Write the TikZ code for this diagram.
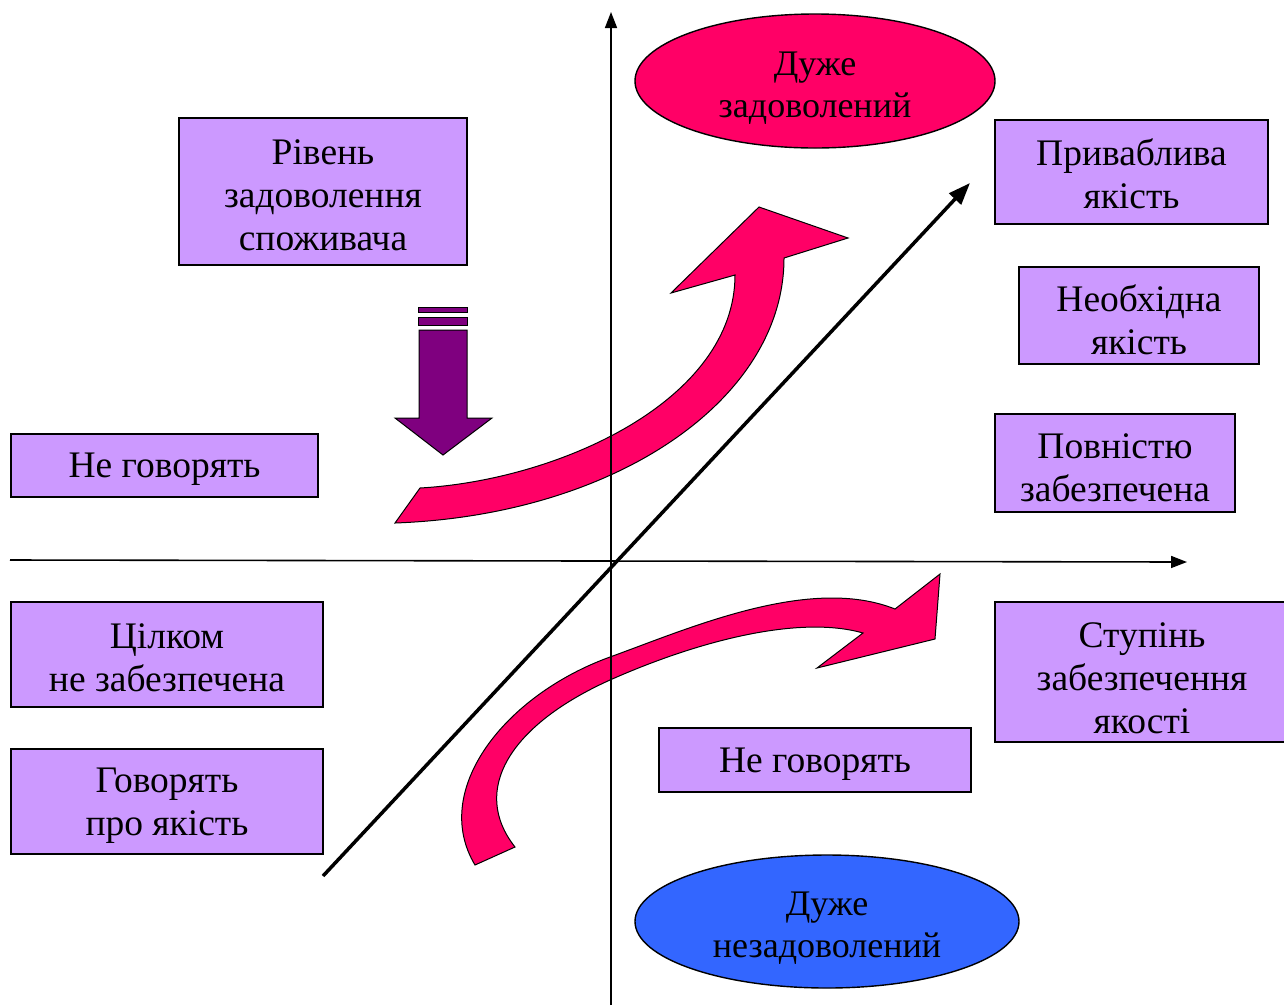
\documentclass[tikz,border=0pt]{standalone}
\usepackage{fontspec}
\setmainfont{Liberation Serif}
\usetikzlibrary{arrows.meta,shapes.geometric}
\definecolor{boxc}{HTML}{CC99FF}
\definecolor{pinkc}{HTML}{FF0066}
\definecolor{bluec}{HTML}{3366FF}
\definecolor{purpc}{HTML}{7F007F}
\begin{document}
\begin{tikzpicture}[x=1pt,y=-1pt,
  lbl/.style={draw=black,line width=1.4pt,fill=boxc,inner sep=0pt},
  txt/.style={inner sep=0pt,align=center,font=\fontsize{37.5}{43}\selectfont},
  ell/.style={ellipse,draw=black,line width=1.4pt,inner sep=0pt},
  etxt/.style={inner sep=0pt,align=center,font=\fontsize{36}{42}\selectfont},
  pinkarrow/.style={fill=pinkc,draw=black,line width=1pt,line join=miter},
  axis/.style={line width=1.6pt,-{Triangle[length=16pt,width=12pt]}}]
\useasboundingbox (0,0) rectangle (1284,1005);
% boxes
\node[lbl,minimum width=288pt,minimum height=147pt] (riv) at (323,191.5) {};
\node[txt] (rivt) at ([yshift=-4pt]riv.center) {Рівень\\задоволення\\споживача};
\node[lbl,minimum width=307pt,minimum height=63pt] (ng1) at (164.5,465.5) {};
\node[txt] (ng1t) at ([yshift=-4pt]ng1.center) {Не говорять};
\node[lbl,minimum width=312pt,minimum height=105pt] (cil) at (167,654.5) {};
\node[txt] (cilt) at ([yshift=-3pt]cil.center) {Цілком\\не забезпечена};
\node[lbl,minimum width=312pt,minimum height=105pt] (gov) at (167,801.5) {};
\node[txt] (govt) at ([yshift=-4pt]gov.center) {Говорять\\про якість};
\node[lbl,minimum width=273pt,minimum height=104pt] (pryv) at (1131.5,172) {};
\node[txt] (pryvt) at ([yshift=-2pt]pryv.center) {Приваблива\\якість};
\node[lbl,minimum width=240pt,minimum height=97pt] (neob) at (1139,315.5) {};
\node[txt] (neobt) at ([yshift=-4pt]neob.center) {Необхідна\\якість};
\node[lbl,minimum width=240pt,minimum height=98pt] (povn) at (1115,463) {};
\node[txt] (povnt) at ([yshift=-5pt]povn.center) {Повністю\\забезпечена};
\node[lbl,minimum width=290pt,minimum height=140pt] (stup) at (1140,672) {};
\node[txt] (stupt) at ([yshift=-6pt,xshift=2pt]stup.center) {Ступінь\\забезпечення\\якості};
\node[lbl,minimum width=312pt,minimum height=64pt] (ng2) at (815,760) {};
\node[txt] (ng2t) at ([yshift=-4pt]ng2.center) {Не говорять};
% ellipses
\node[ell,fill=pinkc,minimum width=360pt,minimum height=134pt] (top) at (815,81) {};
\node[etxt] (topt) at ([yshift=-7pt]top.center) {Дуже\\задоволений};
\node[ell,fill=bluec,minimum width=384pt,minimum height=133pt] (bot) at (827,921.5) {};
\node[etxt] (bott) at ([yshift=-7pt]bot.center) {Дуже\\незадоволений};
% diagonal
\coordinate (d1) at (323,876);
\coordinate (d2) at (970,183);
\draw[line width=3.5pt,-{Triangle[length=22pt,width=16pt]}] (d1) -- (d2);
% purple arrow
\draw[fill=purpc,draw=black,line width=1pt] (418,307) rectangle (467,312);
\draw[fill=purpc,draw=black,line width=1pt] (418,317) rectangle (467,325);
\draw[fill=purpc,draw=black,line width=1pt,line join=miter]
  (419,330) -- (467,330) -- (467,418) -- (492,418) -- (443,455) -- (395,418) -- (419,418) -- cycle;
% upper pink arrow
\draw[pinkarrow] (395,523) -- (420,488) .. controls (560,480) and (735,400) .. (735,275)
  -- (671,293) -- (759,207) -- (848,238) -- (784,258)
  .. controls (784,400) and (615,515) .. (395,523) -- cycle;
% lower pink arrow
\draw[pinkarrow] (475,865) .. controls (430,790) and (505,695) .. (610,657)
  .. controls (690,628) and (810,575) .. (895,609)
  -- (940,574) -- (935,639) -- (817,668) -- (863,633)
  .. controls (800,615) and (700,640) .. (610,680)
  .. controls (510,725) and (470,790) .. (515,847) -- cycle;
% axes
\coordinate (xa) at (10,560);
\coordinate (xb) at (1187,562);
\coordinate (ya) at (611,1005);
\coordinate (yb) at (611,12);
\draw[axis] (xa) -- (xb);
\draw[axis] (ya) -- (yb);
\end{tikzpicture}
\end{document}
